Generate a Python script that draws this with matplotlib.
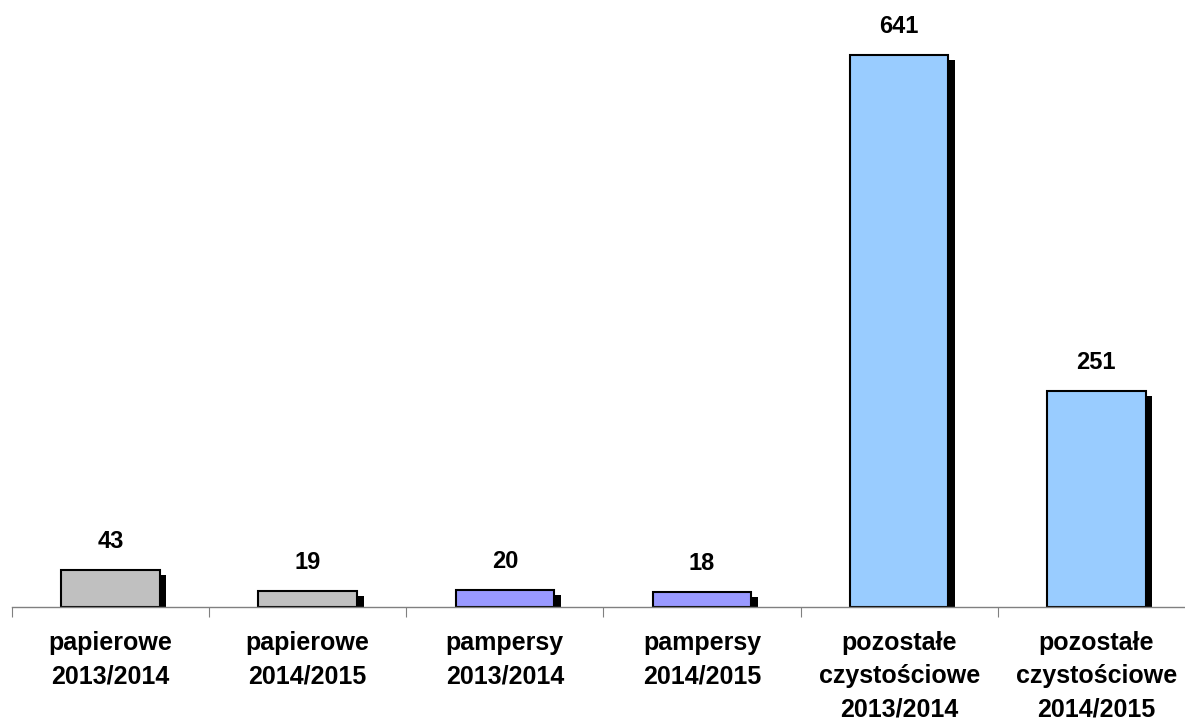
import matplotlib
matplotlib.use("Agg")
import matplotlib.pyplot as plt
import matplotlib.transforms as mtransforms

categories = ["papierowe\n2013/2014", "papierowe\n2014/2015", "pampersy\n2013/2014",
              "pampersy\n2014/2015", "pozostałe\nczystościowe\n2013/2014",
              "pozostałe\nczystościowe\n2014/2015"]
values = [43, 19, 20, 18, 641, 251]
colors = ["#C0C0C0", "#C0C0C0", "#9999FF", "#9999FF", "#99CCFF", "#99CCFF"]

plt.rcParams['font.family'] = ['Liberation Sans', 'DejaVu Sans']

fig = plt.figure(figsize=(11.85, 7.22), dpi=100)
W, H = 1185, 722
base_y = 607
ax = fig.add_axes([12 / W, (H - base_y) / H, (W - 12) / W, base_y / H])

x = list(range(len(values)))
shadow_tr = ax.transData + mtransforms.ScaledTranslation(6.5 / 100, -5 / 100, fig.dpi_scale_trans)
ax.bar(x, values, width=0.5, color="black", edgecolor="black", linewidth=0,
       transform=shadow_tr, zorder=1)
ax.bar(x, values, width=0.5, color=colors, edgecolor="black", linewidth=1.5, zorder=2)

for xi, v in zip(x, values):
    ax.annotate(str(v), (xi, v), xytext=(0, 20.5), textcoords="offset points",
                ha="center", va="center", fontsize=17, fontweight="bold")

for s in ["top", "right", "left"]:
    ax.spines[s].set_visible(False)
ax.spines["bottom"].set_color("#808080")
ax.spines["bottom"].set_linewidth(1)
ax.set_yticks([])
ax.set_xticks([i - 0.5 for i in range(len(values))], minor=False)
ax.set_xticklabels([])
ax.tick_params(axis="x", which="major", length=7, color="#808080", direction="out")
ax.set_xticks(x, minor=True)
ax.set_xticklabels(categories, minor=True, fontsize=18, fontweight="bold", linespacing=1.5)
ax.tick_params(axis="x", which="minor", length=0, pad=17)

ax.set_xlim(-0.5, 5.45)
ax.set_ylim(0, 705)

fig.savefig("out.png", dpi=100)
